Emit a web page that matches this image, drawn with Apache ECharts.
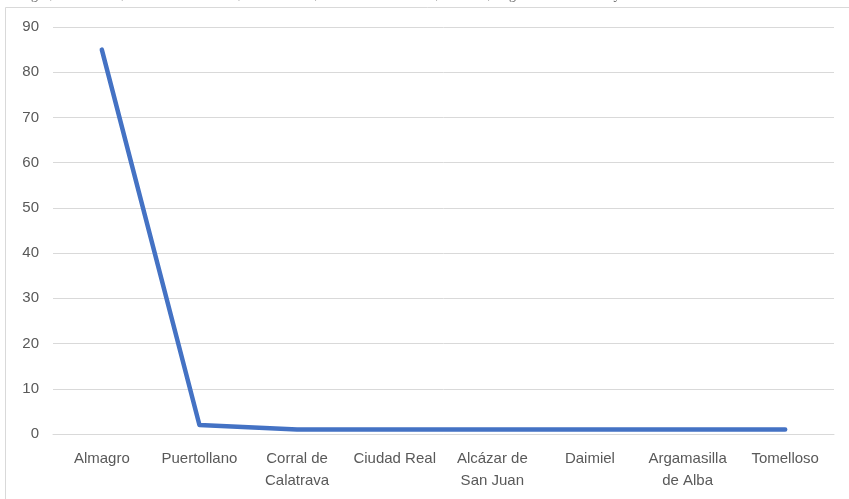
<!DOCTYPE html>
<html>
<head>
<meta charset="utf-8">
<script src="https://cdn.jsdelivr.net/npm/echarts@6/dist/echarts.min.js"></script>
<style>html,body{margin:0;padding:0;background:#fff;}#c{width:849px;height:499px;}</style>
</head>
<body>
<div id="c"></div>
<script>
var categories = ['Almagro', 'Puertollano', 'Corral de\nCalatrava', 'Ciudad Real', 'Alcázar de\nSan Juan', 'Daimiel', 'Argamasilla\nde Alba', 'Tomelloso'];
var values = [85, 2, 1, 1, 1, 1, 1, 1];
var yTicks = [0, 10, 20, 30, 40, 50, 60, 70, 80, 90];
var topText = 'Almagro, Puertollano, Corral de Calatrava, Ciudad Real, Alcázar de San Juan, Daimiel, Argamasilla de Alba y Tomelloso en la base de datos.';

var chart = echarts.init(document.getElementById('c'), null, {renderer: 'canvas'});
chart.setOption({
  animation: false,
  backgroundColor: '#fff',
  graphic: [
    {type: 'rect', left: 3, top: 5, shape: {width: 900, height: 600}, style: {fill: 'none', stroke: '#d9d9d9', lineWidth: 1}, z: 0},
    {type: 'text', left: 0, top: -12, style: {text: topText, fontFamily: 'Liberation Serif', fontSize: 14, fill: '#666'}}
  ],
  grid: {left: 53, right: 15, top: 27, bottom: 65, containLabel: false},
  xAxis: {
    type: 'category',
    data: categories,
    boundaryGap: true,
    axisLine: {show: true, lineStyle: {color: '#d9d9d9', width: 1}},
    axisTick: {show: false},
    axisLabel: {color: '#595959', fontSize: 15, fontFamily: 'Liberation Sans Narrow, Liberation Sans, sans-serif', margin: 14, lineHeight: 22, interval: 0}
  },
  yAxis: {
    type: 'value',
    min: yTicks[0], max: yTicks[yTicks.length - 1], interval: 10,
    axisLine: {show: false},
    axisTick: {show: false},
    splitLine: {lineStyle: {color: '#d9d9d9', width: 1}},
    axisLabel: {color: '#595959', fontSize: 15, fontFamily: 'Liberation Sans Narrow, Liberation Sans, sans-serif', margin: 14}
  },
  series: [{
    type: 'line',
    data: values,
    symbol: 'none',
    lineStyle: {color: '#4472C4', width: 4.5, cap: 'round', join: 'round'}
  }]
});
</script>
</body>
</html>
